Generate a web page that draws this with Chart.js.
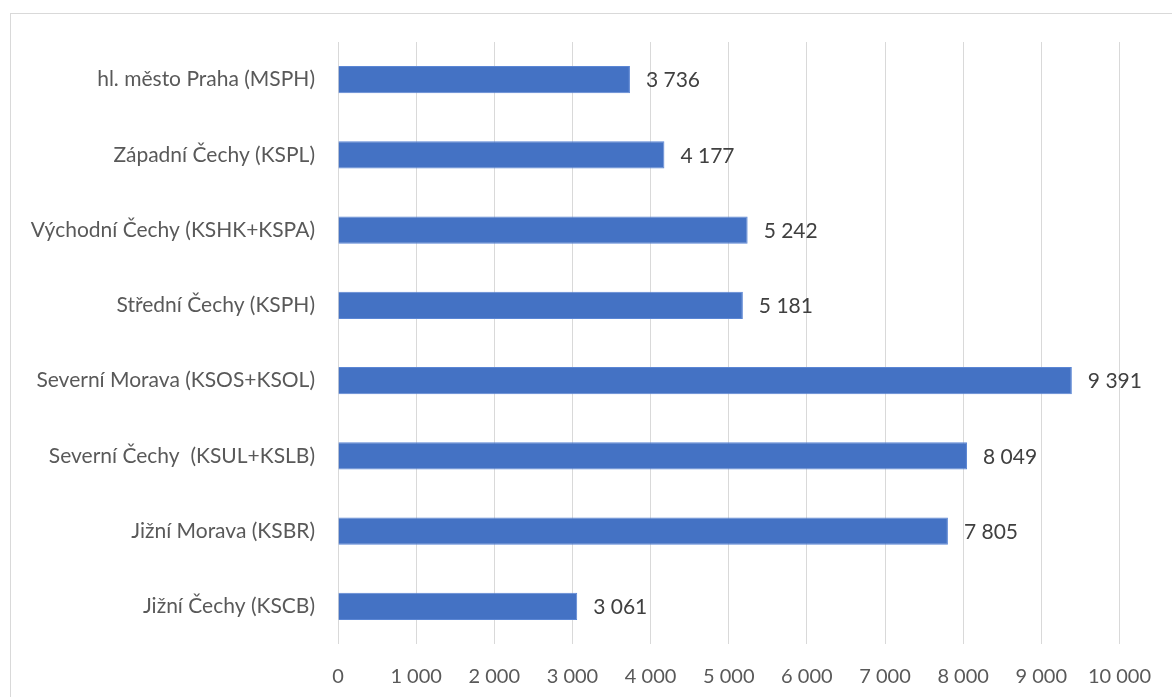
<!DOCTYPE html>
<html>
<head>
<meta charset="utf-8">
<script src="https://cdn.jsdelivr.net/npm/chart.js@4.4.0/dist/chart.umd.min.js"></script>
<style>
  html, body { margin: 0; padding: 0; background: #fff; }
  #wrap { width: 1172px; height: 697px; position: relative; }
</style>
</head>
<body>
<div id="wrap"><canvas id="regionChart"></canvas></div>
<script>
// Data
const categories = [
    'hl. město Praha (MSPH)',
    'Západní Čechy (KSPL)',
    'Východní Čechy (KSHK+KSPA)',
    'Střední Čechy (KSPH)',
    'Severní Morava (KSOS+KSOL)',
    'Severní Čechy  (KSUL+KSLB)',
    'Jižní Morava (KSBR)',
    'Jižní Čechy (KSCB)'
];
const values = [3736, 4177, 5242, 5181, 9391, 8049, 7805, 3061];
const tickValues = [0, 1000, 2000, 3000, 4000, 5000, 6000, 7000, 8000, 9000, 10000];

const FONT = 'Lato, "Open Sans", sans-serif';

// thousands with a space, like "9 391"
function fmt(v) {
    return String(v).replace(/\B(?=(\d{3})+(?!\d))/g, ' ');
}

// chart frame + value labels at the bar ends
const framePlugin = {
    id: 'frame',
    beforeDraw(chart) {
        const ctx = chart.ctx;
        ctx.save();
        ctx.strokeStyle = '#d9d9d9';
        ctx.lineWidth = 1;
        ctx.strokeRect(10.5, 13.5, 1200, 720);
        ctx.restore();
    }
};
const valueLabels = {
    id: 'valueLabels',
    afterDatasetsDraw(chart) {
        const ctx = chart.ctx;
        const meta = chart.getDatasetMeta(0);
        ctx.save();
        ctx.font = '21px ' + FONT;
        ctx.fillStyle = '#404040';
        ctx.textAlign = 'left';
        ctx.textBaseline = 'middle';
        meta.data.forEach((bar, i) => {
            ctx.fillText(fmt(values[i]), bar.x + 16, bar.y + 1);
        });
        ctx.restore();
    }
};

function initializeRegionChart() {
    const ctx = document.getElementById('regionChart').getContext('2d');
    new Chart(ctx, {
        type: 'bar',
        data: {
            labels: categories,
            datasets: [{
                data: values,
                backgroundColor: '#4472C4',
                borderColor: '#5b86d4',
                borderWidth: 1,
                barPercentage: 0.72,
                categoryPercentage: 0.5
            }]
        },
        options: {
            indexAxis: 'y',
            responsive: true,
            maintainAspectRatio: false,
            animation: false,
            layout: { padding: { top: 42, right: 52, left: 0, bottom: 0 } },
            plugins: {
                legend: { display: false },
                tooltip: { enabled: false }
            },
            scales: {
                x: {
                    min: 0,
                    max: 10000,
                    afterBuildTicks(scale) {
                        scale.ticks = tickValues.map(v => ({ value: v }));
                    },
                    afterFit(scale) { scale.height = 53; },
                    grid: { color: '#d9d9d9', lineWidth: 1, drawTicks: false },
                    border: { display: false },
                    ticks: {
                        padding: 21,
                        color: '#595959',
                        font: { family: FONT, size: 20 },
                        callback: v => fmt(v)
                    }
                },
                y: {
                    afterFit(scale) { scale.width = 338; },
                    grid: { display: false, drawTicks: false },
                    border: { display: false },
                    ticks: {
                        padding: 23,
                        color: '#595959',
                        font: { family: FONT, size: 21 }
                    }
                }
            }
        },
        plugins: [framePlugin, valueLabels]
    });
}

initializeRegionChart();
</script>
</body>
</html>
